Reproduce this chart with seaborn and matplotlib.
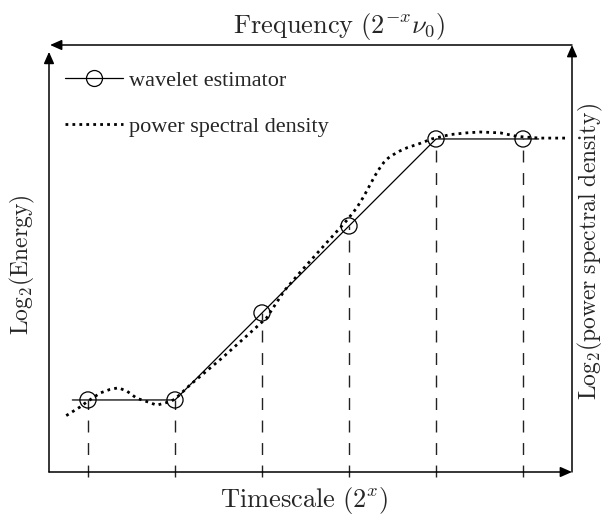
import matplotlib
matplotlib.use("Agg")
import matplotlib.pyplot as plt
import seaborn as sns
import numpy as np
import pandas as pd
from matplotlib.lines import Line2D

# ---------------- data ----------------
# wavelet estimator (octave index vs log2 energy)
wave_x = [1, 2, 3, 4, 5, 6]
wave_y = [0.0, 0.0, 1.0, 2.0, 3.0, 3.0]
# the solid line runs a little beyond the first and last estimator points
line_x = [0.82, 1, 2, 3, 4, 5, 6, 6.18]
line_y = [0.0, 0.0, 0.0, 1.0, 2.0, 3.0, 3.0, 3.0]

# power spectral density
psd_x = [0.75, 0.91, 0.99, 1.14, 1.25, 1.35, 1.45, 1.56, 1.71, 1.79, 1.94, 2.0,
         2.17, 2.55, 3.05, 3.26, 3.44, 3.70, 3.98, 4.09, 4.17, 4.24, 4.30, 4.35,
         4.40, 4.45, 4.51, 4.58, 4.67, 4.82, 4.95, 5.16, 5.35, 5.51, 5.74, 5.93, 6.05,
         6.20, 6.51]
psd_y = [-0.18, -0.08, -0.02, 0.08, 0.12, 0.14, 0.10, 0.02, -0.03, -0.06, -0.02, 0.01,
         0.17, 0.49, 0.94, 1.26, 1.47, 1.76, 2.07, 2.21, 2.34, 2.47, 2.58, 2.66,
         2.73, 2.78, 2.82, 2.86, 2.90, 2.95, 3.00, 3.05, 3.07, 3.08, 3.07, 3.03, 3.02,
         3.01, 3.01]

drop_bottom = -0.885

legend_labels = ["wavelet estimator", "power spectral density"]
xlabel = r"$\mathrm{Timescale}\ (2^{x})$"
toplabel = r"$\mathrm{Frequency}\ (2^{-x}\nu_0)$"
ylabel = r"$\mathrm{Log}_2(\mathrm{Energy})$"
rlabel = r"$\mathrm{Log}_2(\mathrm{power\ spectral\ density})$"

# ---------------- style ----------------
sns.set_theme(style="white")
plt.rcParams["font.family"] = ["Liberation Serif", "DejaVu Serif"]
plt.rcParams["mathtext.fontset"] = "cm"

W, H = 616, 518
fig = plt.figure(figsize=(W / 100, H / 100), dpi=100)
L, R, B, T = 49, 572, 472, 45
ax = fig.add_axes([L / W, 1 - B / H, (R - L) / W, (B - T) / H])
ax.set_xlim(0.552, 6.563)
ax.set_ylim(-0.828, 4.080)
for s in ax.spines.values():
    s.set_visible(False)
ax.set_xticks([])
ax.set_yticks([])
ax.patch.set_alpha(0)

# dashed drop lines
ax.vlines(wave_x, ymin=drop_bottom, ymax=wave_y, colors="#222222",
          linestyles=[(0, (8.6, 7.6))], lw=1.0, clip_on=False, zorder=1)

# PSD dotted curve
sns.lineplot(x=psd_x, y=psd_y, sort=False, estimator=None, color="black",
             lw=2.0, ax=ax, zorder=3)
ax.lines[-1].set_linestyle((0, (1, 1.5)))

# wavelet estimator solid line + circles
sns.lineplot(x=line_x, y=line_y, sort=False, estimator=None, color="black",
             lw=0.9, ax=ax, zorder=2)
sns.scatterplot(x=wave_x, y=wave_y, s=135, marker="o", facecolor="none",
                edgecolor="black", linewidth=0.9, ax=ax, zorder=4)

# frame arrows
ap = dict(arrowstyle="-|>,head_length=0.5,head_width=0.22", mutation_scale=14,
          lw=1.1, color="black", shrinkA=0, shrinkB=0)
ax.annotate("", xy=(1, 0), xytext=(0, 0), xycoords="axes fraction", arrowprops=ap)
ax.annotate("", xy=(0, 0.984), xytext=(0, 0), xycoords="axes fraction", arrowprops=ap)
ax.annotate("", xy=(1, 1), xytext=(1, 0), xycoords="axes fraction", arrowprops=ap)
ax.annotate("", xy=(0.002, 1), xytext=(1, 1), xycoords="axes fraction", arrowprops=ap)

# legend
handles = [
    Line2D([], [], color="black", lw=0.9, marker="o", ms=11.5, mfc="none", mec="black", mew=0.9),
    Line2D([], [], color="black", lw=2.0, ls=(0, (1, 1.5))),
]
leg = ax.legend(handles, legend_labels, loc="upper left",
                bbox_to_anchor=(65 / W, 1 - 70 / H), bbox_transform=fig.transFigure,
                frameon=False, fontsize=16, handlelength=2.6, handletextpad=0.3,
                labelspacing=1.15, borderpad=0, borderaxespad=0)

# labels
fig.text(304 / W, 1 - 500 / H, xlabel, ha="center", va="center", fontsize=19)
fig.text(339 / W, 1 - 26 / H, toplabel, ha="center", va="center", fontsize=19)
fig.text(22 / W, 1 - 265 / H, ylabel, ha="center", va="center", rotation=90, fontsize=17)
fig.text(590 / W, 1 - 252 / H, rlabel, ha="center", va="center", rotation=90, fontsize=17)

fig.savefig("out.png", dpi=100)
